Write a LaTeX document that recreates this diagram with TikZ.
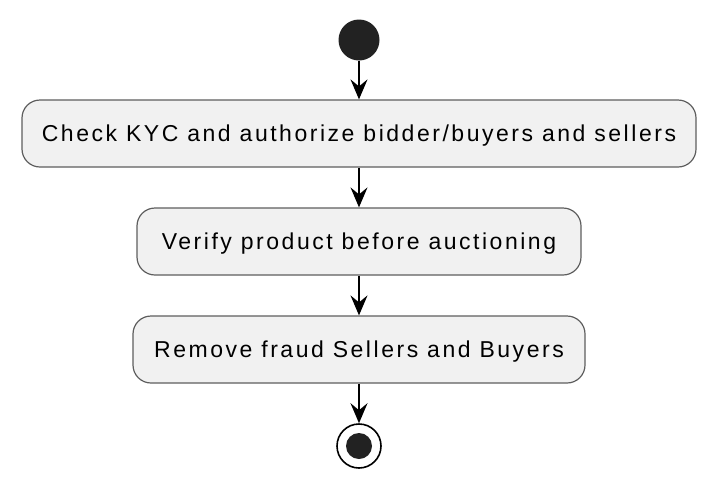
\documentclass[tikz,border=0pt]{standalone}
\usepackage{fontspec}
\setmainfont{Liberation Sans}[LetterSpace=11]
\usetikzlibrary{arrows.meta}
\definecolor{boxfill}{HTML}{F1F1F1}
\definecolor{boxline}{HTML}{5E5E5E}
\definecolor{dotfill}{HTML}{222222}
\tikzset{
  x=1pt,y=-1pt,
  actbox/.style={draw=boxline,line width=1.2pt,fill=boxfill,rounded corners=18pt,
    minimum height=67pt,inner sep=0pt,text height=16.5pt,text depth=0pt,
    font=\fontsize{23}{27}\selectfont,text=black},
  flow/.style={draw=black,line width=1.6pt,-{Stealth[length=20pt,width=17pt,inset=7pt]}},
}
\begin{document}
\begin{tikzpicture}
\useasboundingbox (0,0) rectangle (718,488);
\node[circle,fill=dotfill,minimum size=41pt,inner sep=0pt] (start) at (359,40) {};
\node[actbox,minimum width=674pt] (a1) at (359,133.5) {Check KYC and authorize bidder/buyers and sellers};
\node[actbox,minimum width=444pt] (a2) at (359,241.5) {Verify product before auctioning};
\node[actbox,minimum width=452pt] (a3) at (359,349.5) {Remove fraud Sellers and Buyers};
\node[circle,draw=black,line width=1.6pt,fill=white,minimum size=44pt,inner sep=0pt] (end) at (359,446) {};
\node[circle,fill=dotfill,minimum size=26pt,inner sep=0pt] (endin) at (end.center) {};
\draw[flow] (start) -- (a1);
\draw[flow] (a1) -- (a2);
\draw[flow] (a2) -- (a3);
\draw[flow] (a3) -- (end);
\end{tikzpicture}
\end{document}
